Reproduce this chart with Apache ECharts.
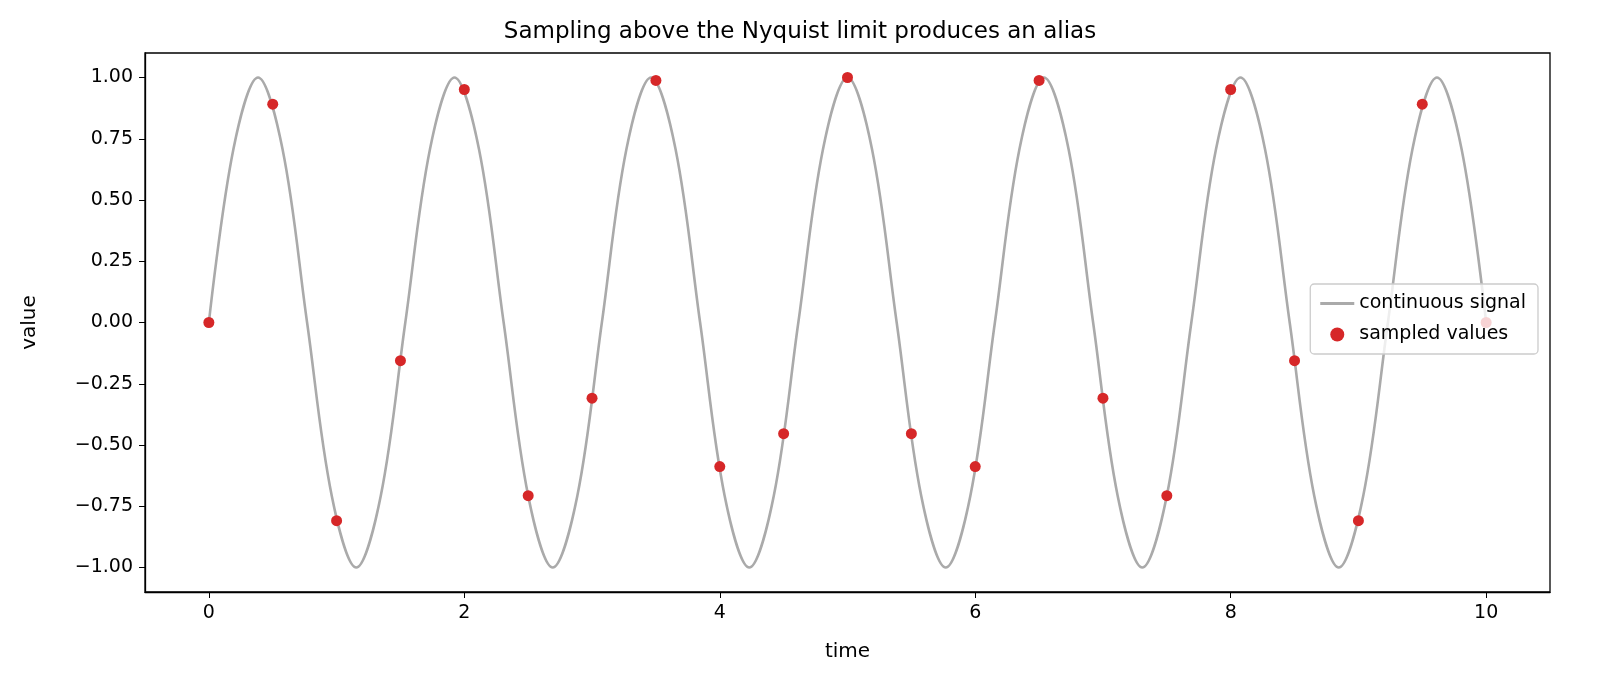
<!DOCTYPE html>
<html><head><meta charset="utf-8">
<script src="https://cdn.jsdelivr.net/npm/echarts@6/dist/echarts.min.js"></script>
<style>html,body{margin:0;padding:0;background:#fff}#c{width:1600px;height:700px}</style>
</head><body><div id="c"></div>
<script>
// continuous signal read at eighth-period points (period ≈ 1.538)
const signalT = [0,0.192,0.385,0.577,0.769,0.962,1.154,1.346,1.538,1.731,1.923,2.115,2.308,2.5,2.692,2.885,3.077,3.269,3.462,3.654,3.846,4.038,4.231,4.423,4.615,4.808,5.0,5.192,5.385,5.577,5.769,5.962,6.154,6.346,6.538,6.731,6.923,7.115,7.308,7.5,7.692,7.885,8.077,8.269,8.462,8.654,8.846,9.038,9.231,9.423,9.615,9.808,10.0];
const signalV = [0,0.707,1,0.707,0,-0.707,-1,-0.707,0,0.707,1,0.707,0,-0.707,-1,-0.707,0,0.707,1,0.707,0,-0.707,-1,-0.707,0,0.707,1,0.707,0,-0.707,-1,-0.707,0,0.707,1,0.707,0,-0.707,-1,-0.707,0,0.707,1,0.707,0,-0.707,-1,-0.707,0,0.707,1,0.707,0];
const sampleT = [0,0.5,1,1.5,2,2.5,3,3.5,4,4.5,5,5.5,6,6.5,7,7.5,8,8.5,9,9.5,10];
const sampleV = [0,0.891,-0.809,-0.156,0.951,-0.707,-0.309,0.988,-0.588,-0.454,1.0,-0.454,-0.588,0.988,-0.309,-0.707,0.951,-0.156,-0.809,0.891,0];
const xTicks = [0,2,4,6,8,10];
const yTicks = [-1,-0.75,-0.5,-0.25,0,0.25,0.5,0.75,1];

const fmt = v => (v < 0 ? '\u2212' : '') + Math.abs(v).toFixed(2);
const font = 'DejaVu Sans';
const chart = echarts.init(document.getElementById('c'));
chart.setOption({
  animation:false,
  textStyle:{fontFamily:font},
  title:{text:'Sampling above the Nyquist limit produces an alias',left:'center',top:16,
    textStyle:{fontFamily:font,fontSize:23,fontWeight:'normal',color:'#000'}},
  grid:{left:145,right:50,top:53,bottom:108,show:true,borderColor:'#000',borderWidth:1.3},
  legend:{right:62,top:284,orient:'vertical',backgroundColor:'rgba(255,255,255,0.8)',borderColor:'#ccc',borderWidth:1.3,borderRadius:4,
    padding:[10,12,10,10],itemGap:12,itemWidth:34,itemHeight:14,
    textStyle:{fontFamily:font,fontSize:19,color:'#000'},
    data:[{name:'continuous signal',icon:'path://M0,5.6 L34,5.6 L34,8.4 L0,8.4 Z',itemStyle:{color:'#aaaaaa'}},{name:'sampled values',icon:'circle'}]},
  xAxis:{type:'value',min:-0.5,max:10.5,name:'time',nameLocation:'middle',nameGap:50,
    nameTextStyle:{fontFamily:font,fontSize:20,color:'#000'},
    axisLine:{show:true,onZero:false,lineStyle:{color:'#000',width:1.3}},splitLine:{show:false},
    axisTick:{show:true,length:6,customValues:xTicks,lineStyle:{color:'#000'}},
    axisLabel:{customValues:xTicks,fontSize:19,color:'#000',margin:12,fontFamily:font}},
  yAxis:{type:'value',min:-1.1,max:1.1,name:'value',nameLocation:'middle',nameGap:105,
    nameTextStyle:{fontFamily:font,fontSize:20,color:'#000'},
    axisLine:{show:true,onZero:false,lineStyle:{color:'#000',width:1.3}},splitLine:{show:false},
    axisTick:{show:true,length:6,customValues:yTicks,lineStyle:{color:'#000'}},
    axisLabel:{customValues:yTicks,formatter:fmt,fontSize:19,color:'#000',margin:12,fontFamily:font}},
  series:[
    {name:'continuous signal',type:'line',data:signalT.map((t,i)=>[t,signalV[i]]),smooth:0.35,showSymbol:false,
      lineStyle:{color:'#aaaaaa',width:2.6},itemStyle:{color:'#aaaaaa'},z:2},
    {name:'sampled values',type:'scatter',data:sampleT.map((t,i)=>[t,sampleV[i]]),symbolSize:11,
      itemStyle:{color:'#d62728',opacity:1},z:3}
  ]
});
</script></body></html>
